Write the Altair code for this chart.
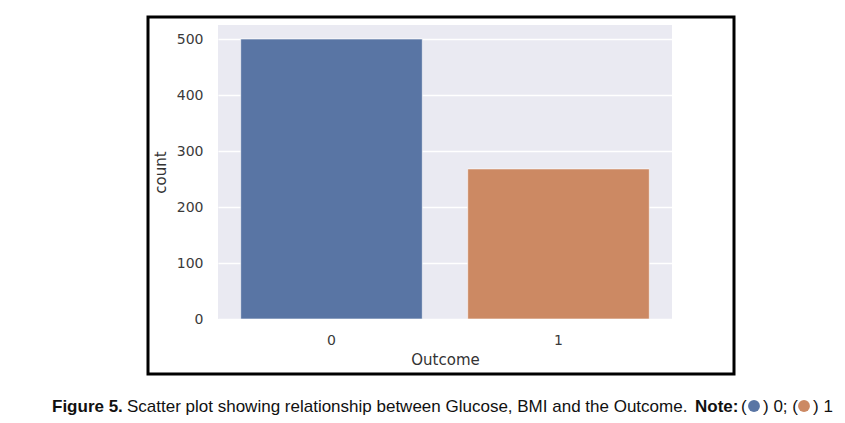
import altair as alt
import pandas as pd

# ---- data ----
outcome = ["0", "1"]
counts = [500, 268]
bar_colors = ["#5975A4", "#CC8963"]
y_ticks = [0, 100, 200, 300, 400, 500]

cap_bold_1 = "Figure 5."
cap_regular = "Scatter plot showing relationship between Glucose, BMI and the Outcome."
cap_bold_2 = "Note:"
cap_open = "("
cap_mid = ") 0; ("
cap_end = ") 1"

df = pd.DataFrame({"Outcome": outcome, "count": counts})

W, H = 454, 294
PAD_L, PAD_T = 210, 17

axis_font = "DejaVu Sans"
cap_font = "Liberation Sans"

bars = alt.Chart(df).mark_bar(stroke="white", strokeWidth=0.6).encode(
    x=alt.X(
        "Outcome:N",
        sort=outcome,
        scale=alt.Scale(paddingInner=0.2, paddingOuter=0.1),
        axis=alt.Axis(
            title="Outcome", labelAngle=0, ticks=False, domain=False, grid=False,
            labelPadding=14, titlePadding=5, labelFont=axis_font, titleFont=axis_font,
            labelFontSize=14, titleFontSize=15, labelColor="#3a3a3a", titleColor="#333333",
            titleFontWeight="normal",
        ),
    ),
    y=alt.Y(
        "count:Q",
        scale=alt.Scale(domain=[0, 525], nice=False),
        axis=alt.Axis(
            title="count", values=y_ticks, ticks=False, domain=False, grid=True,
            gridColor="white", gridWidth=1.5, labelPadding=15, titlePadding=8,
            labelFont=axis_font, titleFont=axis_font, labelFontSize=14, titleFontSize=15,
            labelColor="#3a3a3a", titleColor="#333333", titleFontWeight="normal",
        ),
    ),
    color=alt.Color("Outcome:N", scale=alt.Scale(domain=outcome, range=bar_colors), legend=None),
)

one = lambda s: pd.DataFrame({"label": [s]})

frame = alt.Chart(one("frame")).mark_rect(
    fillOpacity=0, stroke="black", strokeWidth=3
).encode(x=alt.value(-70), x2=alt.value(516), y=alt.value(-8), y2=alt.value(349))


def cap(text, xpos, bold=False):
    return alt.Chart(one(text)).mark_text(
        align="left", baseline="alphabetic", font=cap_font, fontSize=17,
        fontWeight="bold" if bold else "normal", color="#111111",
    ).encode(text="label:N", x=alt.value(xpos), y=alt.value(387))


def dot(color, xpos):
    return alt.Chart(one("dot")).mark_point(
        shape="circle", filled=True, size=140, opacity=1, color=color
    ).encode(x=alt.value(xpos), y=alt.value(381))


chart = alt.layer(
    bars,
    frame,
    cap(cap_bold_1, -166, True),
    cap(cap_regular, -91),
    cap(cap_bold_2, 477, True),
    cap(cap_open, 523),
    dot(bar_colors[0], 536),
    cap(cap_mid, 545),
    dot(bar_colors[1], 586),
    cap(cap_end, 595),
).properties(
    width=W, height=H,
    view=alt.ViewBackground(fill="#EAEAF2", strokeWidth=0),
    autosize=alt.AutoSizeParams(type="none"),
    padding={"left": PAD_L, "top": PAD_T, "right": 845 - 16 - PAD_L - W, "bottom": 423 - 16 - PAD_T - H},
).configure(background="white")

chart.save("out.html", embed_options={"renderer": "svg", "actions": False})
